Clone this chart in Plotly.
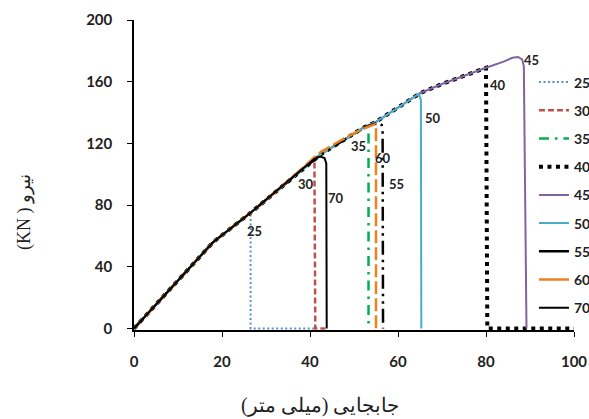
import plotly.graph_objects as go

# ---- data (displacement mm, load kN) ----
names = ["25", "30", "35", "40", "45", "50", "55", "60", "70"]

x25 = [0, 8, 18, 26.5, 26.5, 41]
y25 = [0, 25, 56, 75, 0, 0]

x30 = [0, 8, 18, 26.5, 34, 41, 41.2, 43.5]
y30 = [0, 25, 56, 75, 93, 110, 0, 0]

x35 = [0, 8, 18, 26.5, 34, 41, 42.5, 47, 52, 53.3, 53.3]
y35 = [0, 25, 56, 75, 93, 110, 113, 121, 129.5, 131, 0]

x40 = [0, 8, 18, 26.5, 34, 41, 42.5, 47, 52, 55, 60, 65, 70, 75, 80, 80.3, 100]
y40 = [0, 25, 56, 75, 93, 110, 113, 121, 130, 134, 143, 152.5, 158.5, 164, 169, 0, 0]

x45 = [0, 8, 18, 26.5, 34, 41, 42.5, 47, 52, 55, 60, 65, 70, 75, 80, 84, 86, 87.3, 88.2, 88.6, 89.2]
y45 = [0, 25, 56, 75, 93, 110, 113, 121, 130, 134, 143, 152.5, 158.5, 164, 169, 173, 175.5, 176, 174.5, 170, 0]

x50 = [0, 8, 18, 26.5, 34, 41, 42.5, 47, 52, 55, 60, 64.8, 65.2, 65.3]
y50 = [0, 25, 56, 75, 93, 110, 113, 121, 130, 134, 143, 152.3, 148, 0]

x55 = [0, 8, 18, 26.5, 34, 41, 42.5, 47, 52, 55.5, 56.3, 56.5, 56.6]
y55 = [0, 25, 56, 75, 93, 110, 113, 121, 130, 133.5, 132, 128, 0]

x60 = [0, 8, 18, 26.5, 34, 41, 42.5, 47, 52, 54.8, 55.0, 55.0]
y60 = [0, 25, 56, 75, 93, 111, 114.5, 122, 129.5, 132.5, 130, 0]

x70 = [0, 8, 18, 26.5, 34, 41, 42.3, 43.3, 43.7, 43.8]
y70 = [0, 25, 56, 75, 93, 110, 111.5, 110.5, 107, 0]

label_x = [27.3, 39.2, 51, 82.8, 90.4, 68, 59.7, 56.7, 46]
label_y = [63, 93.5, 118, 158, 174, 136.6, 93.5, 110.8, 84.3]

x_ticks = [0, 20, 40, 60, 80, 100]
y_ticks = [0, 40, 80, 120, 160, 200]

x_title = "جابجایی (میلی متر)\u200f"
y_title = "(KN ) نیرو"

xs = [x25, x30, x35, x40, x45, x50, x55, x60, x70]
ys = [y25, y30, y35, y40, y45, y50, y55, y60, y70]

styles = [
    dict(color="#5B8FCB", width=2, dash="2px,2.5px"),
    dict(color="#C0504D", width=2.5, dash="6px,3px"),
    dict(color="#00B050", width=2.5, dash="10px,6px,2.5px,6px"),
    dict(color="#000000", width=4, dash="4px,4.5px"),
    dict(color="#8064A2", width=2),
    dict(color="#4BACC6", width=2),
    dict(color="#000000", width=2.5, dash="14px,5px,2.5px,5px,2.5px,5px"),
    dict(color="#F0821E", width=2.5, dash="13px,4px"),
    dict(color="#000000", width=2),
]
# legend samples that look solid in the reference
legend_solid = {"55", "60"}

fig = go.Figure()
for i, n in enumerate(names):
    solid_sample = n in legend_solid
    fig.add_trace(go.Scatter(
        x=xs[i], y=ys[i], mode="lines", name=n, legendgroup=n,
        line=styles[i], showlegend=not solid_sample, legendrank=i + 1,
    ))
for i, n in enumerate(names):
    if n in legend_solid:
        st = dict(styles[i])
        st.pop("dash", None)
        fig.add_trace(go.Scatter(x=[None], y=[None], mode="lines", name=n,
                                 legendgroup=n, line=st, legendrank=i + 1))

for i, n in enumerate(names):
    fig.add_annotation(x=label_x[i], y=label_y[i], text=n, showarrow=False,
                       xanchor="center", yanchor="middle",
                       font=dict(family="Lato", size=13, color="#222", weight="bold"))

fig.add_annotation(xref="paper", yref="paper", x=0.4227, y=-0.242, text=x_title,
                   showarrow=False, xanchor="center", yanchor="middle",
                   font=dict(family="Liberation Serif", size=20, color="#222"))
fig.add_annotation(xref="paper", yref="paper", x=-0.2477, y=0.381, text=y_title,
                   showarrow=False, xanchor="center", yanchor="middle", textangle=-90,
                   font=dict(family="Liberation Serif", size=18, color="#222"))

tickfont = dict(family="Lato", size=15, color="#222", weight="bold")
fig.update_layout(
    width=589, height=419,
    margin=dict(l=134, r=15, t=20, b=89, autoexpand=False),
    paper_bgcolor="white", plot_bgcolor="white",
    showlegend=True,
    legend=dict(x=0.909, xanchor="left", y=0.85, yanchor="top",
                bgcolor="rgba(0,0,0,0)", borderwidth=0,
                tracegroupgap=7,
                font=dict(family="Lato", size=14, color="#222", weight="bold")),
    xaxis=dict(range=[0, 100], tickvals=x_ticks, ticktext=[str(v) for v in x_ticks],
               showgrid=False, zeroline=False, showline=True, linecolor="black",
               linewidth=1.5, ticks="outside", ticklen=5, tickcolor="black",
               ticklabelstandoff=12, tickfont=tickfont),
    yaxis=dict(range=[-1, 200], tickvals=y_ticks, ticktext=[str(v) for v in y_ticks],
               showgrid=False, zeroline=False, showline=True, linecolor="black",
               linewidth=1.5, ticks="outside", ticklen=5, tickcolor="black",
               ticklabelstandoff=12, tickfont=tickfont),
)

page_fix = ("document.body.style.margin='0';"
            "document.body.style.overflow='hidden';"
            "document.documentElement.style.overflow='hidden';")
fig.write_html("out.html", post_script=page_fix, config={"displayModeBar": False})
